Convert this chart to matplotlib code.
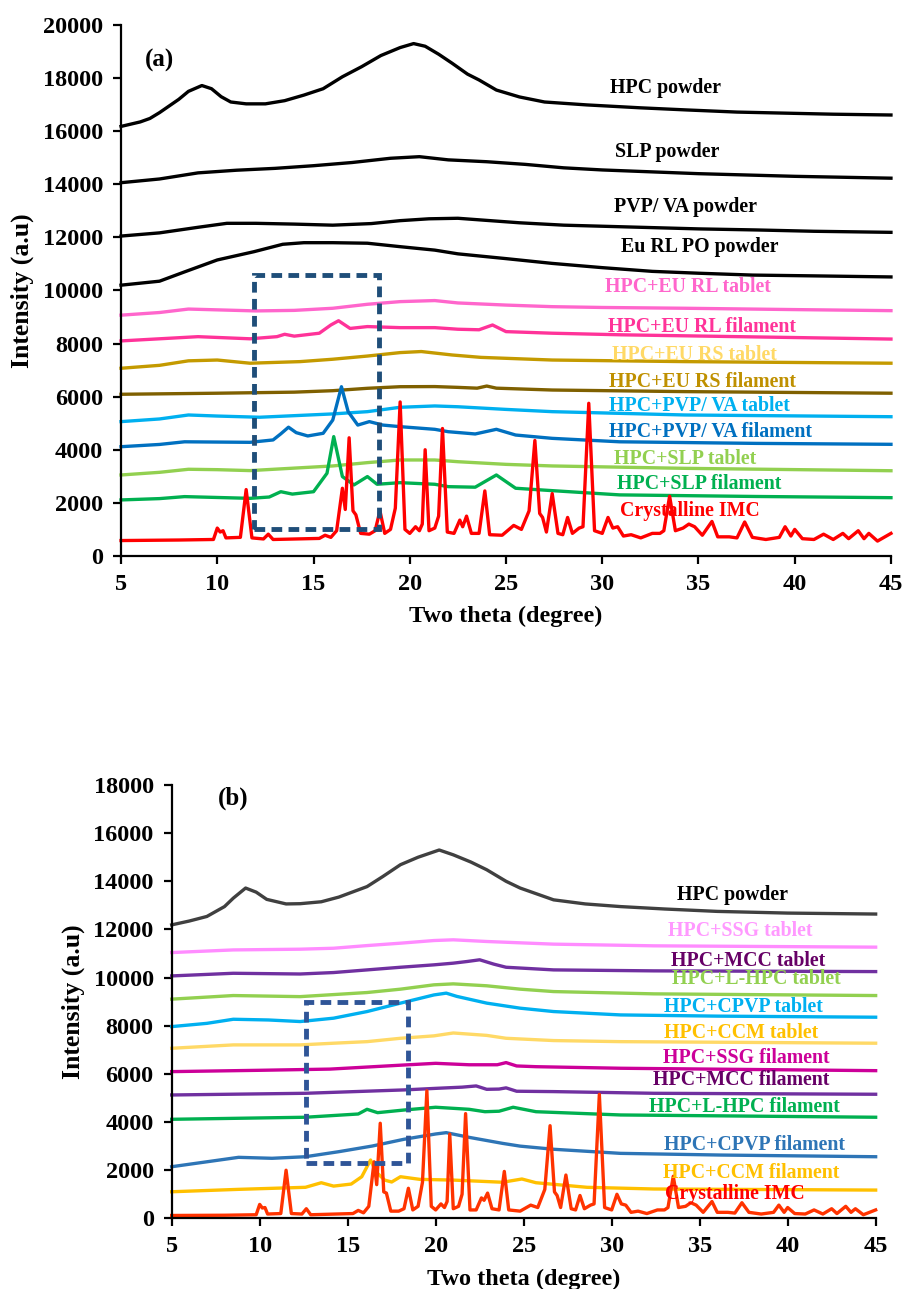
import matplotlib
matplotlib.use("Agg")
import matplotlib.pyplot as plt
from matplotlib.patches import Rectangle

# ---------------- panel (a) data ----------------
a_hpc_x = [5, 6, 6.5, 7, 7.5, 8, 8.5, 9.2, 9.7, 10.2, 10.7, 11.5, 12.5, 13.5, 14.5, 15.5, 16.5, 17.5, 18.5, 19.5,
           20.2, 20.8, 21.5, 22.2, 23, 23.6, 24.5, 25.7, 27, 29.2, 32, 34.4, 37, 39.5, 42, 45]
a_hpc_y = [16180, 16350, 16480, 16700, 16950, 17200, 17500, 17720, 17600, 17300, 17100, 17030, 17030, 17150, 17360,
           17600, 18050, 18430, 18850, 19150, 19300, 19200, 18900, 18560, 18150, 17930, 17550, 17290, 17100, 16990,
           16880, 16800, 16720, 16680, 16640, 16610]

a_slp_x = [5, 7, 9, 11, 13, 15, 17, 19, 20.5, 22, 24, 26, 28, 30, 35, 40, 45]
a_slp_y = [14060, 14200, 14430, 14530, 14600, 14700, 14820, 14980, 15040, 14920, 14850, 14750, 14620, 14540, 14400,
           14300, 14230]

a_pvp_x = [5, 7, 9, 10.5, 12, 14, 16, 18, 19.5, 21, 22.5, 24, 25.7, 28, 31, 35, 38, 41, 45]
a_pvp_y = [12050, 12170, 12380, 12530, 12530, 12500, 12460, 12520, 12630, 12700, 12720, 12640, 12550, 12460, 12400,
           12320, 12280, 12230, 12190]

a_eurl_x = [5, 7, 8.3, 10, 11.9, 13.4, 14.5, 16, 17.8, 19.5, 21.3, 22.5, 25, 27.4, 30, 32.6, 35, 37.8, 41, 45]
a_eurl_y = [10200, 10350, 10700, 11150, 11460, 11740, 11800, 11800, 11780, 11650, 11520, 11380, 11200, 11020, 10860,
            10720, 10650, 10580, 10550, 10510]

a_rltab_x = [5, 7, 8.5, 10, 12, 14, 16, 17.8, 19.5, 21.3, 22.5, 25, 27.4, 30, 34.3, 40, 45]
a_rltab_y = [9070, 9170, 9300, 9270, 9230, 9250, 9330, 9480, 9580, 9620, 9530, 9450, 9390, 9360, 9330, 9280, 9240]

a_rlfil_x = [5, 7, 9, 11.7, 13.1, 13.5, 14, 15.3, 15.9, 16.3, 16.9, 17.8, 19.5, 21.3, 22.5, 23.6, 24.3, 25, 27.4, 31,
             38, 45]
a_rlfil_y = [8100, 8180, 8260, 8180, 8260, 8350, 8280, 8390, 8700, 8860, 8570, 8640, 8600, 8600, 8540, 8520, 8700,
             8450, 8390, 8330, 8250, 8170]

a_rstab_x = [5, 7, 8.5, 10, 11.7, 14.3, 16, 17.8, 19.5, 20.6, 22.2, 23.7, 27.4, 34.3, 45]
a_rstab_y = [7070, 7180, 7350, 7380, 7260, 7320, 7410, 7530, 7660, 7700, 7570, 7480, 7380, 7320, 7260]

a_rsfil_x = [5, 10, 14, 16, 17.8, 19.5, 21.3, 22.5, 23.5, 24.0, 24.5, 27.4, 34.3, 45]
a_rsfil_y = [6090, 6130, 6170, 6225, 6315, 6375, 6380, 6350, 6320, 6400, 6320, 6250, 6190, 6130]

a_pvtab_x = [5, 7, 8.5, 10, 12.2, 16, 17.8, 19.5, 21.3, 22.5, 25, 27.4, 34.3, 45]
a_pvtab_y = [5060, 5160, 5310, 5270, 5225, 5350, 5435, 5600, 5650, 5620, 5520, 5435, 5310, 5245]

a_pvfil_x = [5, 7, 8.3, 11.7, 12.9, 13.3, 13.7, 14.1, 14.7, 15.5, 16.0, 16.45, 16.8, 17.3, 17.9, 18.6, 19.5, 21.3, 22,
             23.4, 24.5, 25.5, 27.4, 30.9, 38, 45]
a_pvfil_y = [4115, 4200, 4300, 4280, 4370, 4600, 4850, 4645, 4520, 4620, 5120, 6375, 5435, 4930, 5060, 4930, 4870,
             4770, 4680, 4595, 4770, 4555, 4430, 4300, 4240, 4205]

a_sltab_x = [5, 7, 8.5, 10, 11.7, 16, 17.8, 19.5, 21.3, 22.5, 25, 27.4, 34.3, 45]
a_sltab_y = [3050, 3150, 3265, 3250, 3215, 3390, 3515, 3615, 3615, 3550, 3450, 3390, 3300, 3210]

a_slfil_x = [5, 7, 8.3, 11.7, 12.7, 13.3, 13.9, 15.0, 15.7, 16.05, 16.5, 17.1, 17.8, 18.3, 19.5, 21.3, 22, 23.4, 24.5,
             25.5, 27.4, 30.9, 38, 45]
a_slfil_y = [2110, 2160, 2235, 2170, 2220, 2420, 2330, 2420, 3115, 4495, 2990, 2675, 2990, 2700, 2760, 2700, 2610,
             2590, 3050, 2550, 2460, 2300, 2240, 2195]

# crystalline IMC, same 2theta positions in both panels
imc_x = [5, 8, 9.8, 10.0, 10.15, 10.3, 10.45, 11.2, 11.5, 11.8, 12.4, 12.65, 12.9, 15.3, 15.6, 15.9, 16.2, 16.5, 16.65,
         16.85, 17.05, 17.2, 17.45, 17.9, 18.2, 18.45, 18.7, 19.0, 19.25, 19.5, 19.75, 20.0, 20.3, 20.5, 20.65, 20.8,
         21.0, 21.3, 21.5, 21.7, 21.95, 22.3, 22.6, 22.75, 22.95, 23.2, 23.6, 23.9, 24.15, 24.8, 25.4, 25.8, 26.2,
         26.5, 26.75, 26.9, 27.1, 27.4, 27.7, 27.95, 28.2, 28.45, 28.8, 29.0, 29.3, 29.6, 30.0, 30.3, 30.55, 30.8,
         31.1, 31.5, 32.0, 32.6, 33.0, 33.2, 33.5, 33.8, 34.2, 34.5, 34.8, 35.2, 35.7, 36.0, 36.6, 37.0, 37.4, 37.8,
         38.5, 39.2, 39.5, 39.8, 40.0, 40.4, 41.0, 41.5, 42.0, 42.5, 42.8, 43.3, 43.6, 43.85, 44.3, 45]
a_imc_y = [580, 600, 620, 1050, 900, 950, 680, 700, 2500, 680, 640, 820, 620, 660, 780, 700, 950, 2550, 1750, 4450,
           1700, 1550, 850, 820, 950, 1700, 850, 1000, 1800, 5800, 1000, 850, 1100, 950, 1200, 4000, 950, 1050, 1500,
           4800, 900, 850, 1350, 1100, 1500, 850, 850, 2450, 800, 780, 1150, 1000, 1700, 4350, 1600, 1450, 900, 2350,
           850, 800, 1450, 850, 1050, 1100, 5750, 950, 850, 1450, 1050, 1100, 750, 800, 680, 850, 850, 950, 2250, 950,
           1050, 1200, 1100, 780, 1300, 720, 720, 680, 1280, 700, 620, 700, 1100, 750, 1000, 650, 620, 820, 620, 850,
           650, 950, 650, 850, 560, 850]

a_labels = ["HPC powder", "SLP powder", "PVP/ VA powder", "Eu RL PO powder", "HPC+EU RL tablet",
            "HPC+EU RL filament", "HPC+EU RS tablet", "HPC+EU RS filament", "HPC+PVP/ VA tablet",
            "HPC+PVP/ VA filament", "HPC+SLP tablet", "HPC+SLP filament", "Crystalline IMC"]
a_label_x = [33.3, 33.4, 34.35, 35.05, 34.45, 35.2, 34.8, 35.2, 35.05, 35.6, 34.3, 35.05, 34.55]
a_label_y = [17625, 15225, 13155, 11625, 10120, 8640, 7570, 6565, 5650, 4680, 3640, 2710, 1710]

# ---------------- panel (b) data ----------------
b_hpc_x = [5, 6, 7, 8, 8.5, 9.2, 9.8, 10.4, 11.5, 12.3, 13.5, 14.5, 16.1, 17, 18, 19, 20.2, 21, 22, 22.9, 24, 24.8,
           26.7, 28.5, 30.5, 33, 36, 40, 45]
b_hpc_y = [12190, 12350, 12540, 12950, 13300, 13720, 13550, 13250, 13060, 13070, 13150, 13345, 13780, 14200, 14690,
           15000, 15300, 15100, 14800, 14480, 14000, 13720, 13230, 13060, 12950, 12850, 12750, 12680, 12640]

b_ssgtab_x = [5, 8.5, 12.3, 14.2, 16.1, 18, 19.9, 21, 22.9, 26.7, 32.4, 45]
b_ssgtab_y = [11040, 11150, 11180, 11220, 11330, 11430, 11540, 11570, 11500, 11390, 11320, 11265]

b_mcctab_x = [5, 8.5, 12.3, 14.2, 16.1, 18, 19.9, 21, 21.8, 22.5, 23.3, 24, 26.7, 32.4, 45]
b_mcctab_y = [10070, 10180, 10150, 10210, 10320, 10430, 10530, 10600, 10670, 10740, 10560, 10430, 10320, 10280, 10250]

b_lhtab_x = [5, 8.5, 12.3, 14.2, 16.1, 18, 19.9, 21, 22.9, 24.8, 26.7, 32.4, 45]
b_lhtab_y = [9105, 9255, 9210, 9295, 9380, 9520, 9700, 9740, 9660, 9520, 9420, 9325, 9255]

b_cptab_x = [5, 7, 8.5, 10.5, 12.3, 14.2, 16.1, 18, 19.9, 20.6, 21.2, 22.9, 24.8, 26.7, 30.5, 36, 45]
b_cptab_y = [7965, 8100, 8270, 8240, 8175, 8315, 8590, 8940, 9280, 9355, 9220, 8940, 8730, 8590, 8450, 8400, 8355]

b_cctab_x = [5, 8.5, 12.3, 14.2, 16.1, 18, 19.9, 21, 22.9, 24, 26.7, 30.5, 45]
b_cctab_y = [7065, 7205, 7205, 7275, 7340, 7480, 7580, 7700, 7600, 7480, 7385, 7340, 7275]

b_ssgfil_x = [5, 10, 14, 18.2, 20, 21.9, 23.5, 24, 24.6, 25.7, 30.5, 45]
b_ssgfil_y = [6095, 6150, 6200, 6370, 6440, 6380, 6380, 6470, 6330, 6300, 6235, 6135]

b_mccfil_x = [5, 12.6, 18.2, 20, 21.5, 22.3, 22.9, 23.6, 24, 24.6, 26.7, 32.4, 45]
b_mccfil_y = [5125, 5195, 5335, 5400, 5450, 5500, 5360, 5370, 5420, 5280, 5265, 5195, 5155]

b_lhfil_x = [5, 12.6, 15.6, 16.1, 16.7, 18.2, 20, 21.9, 22.8, 23.6, 24.4, 25.7, 30.5, 45]
b_lhfil_y = [4115, 4200, 4335, 4530, 4390, 4500, 4615, 4530, 4430, 4450, 4615, 4430, 4295, 4200]

b_cpfil_x = [5, 7, 8.8, 10.7, 12.6, 14.5, 16.4, 18.2, 20, 20.6, 21.9, 23.8, 24.8, 26.7, 30.5, 36.2, 45]
b_cpfil_y = [2145, 2350, 2535, 2495, 2560, 2770, 3005, 3285, 3505, 3560, 3365, 3115, 3000, 2870, 2700, 2630, 2560]

b_ccfil_x = [5, 8.8, 12.6, 13.5, 14.2, 15.2, 15.8, 16.3, 16.6, 17.1, 17.5, 18, 19.1, 21, 23.8, 24.9, 25.7, 28.6, 32.4, 45]
b_ccfil_y = [1105, 1205, 1290, 1480, 1340, 1425, 1730, 2425, 1940, 1590, 1510, 1730, 1620, 1590, 1500, 1635, 1480,
             1290, 1220, 1175]

b_imc_y = [120, 130, 150, 580, 430, 450, 180, 200, 2000, 200, 180, 400, 150, 200, 330, 230, 500, 2350, 1400, 3950,
           1100, 1050, 300, 300, 400, 1250, 350, 500, 1500, 5300, 500, 350, 600, 450, 700, 3500, 400, 500, 1000, 4350,
           350, 350, 850, 750, 1050, 400, 350, 1950, 350, 300, 550, 450, 1200, 3850, 1100, 950, 450, 1800, 400, 350,
           950, 400, 550, 600, 5150, 450, 350, 1000, 600, 550, 250, 300, 200, 350, 350, 450, 1750, 450, 500, 650, 550,
           250, 700, 250, 250, 220, 650, 250, 180, 250, 550, 250, 450, 200, 180, 350, 180, 400, 200, 500, 250, 400,
           150, 350]

b_labels = ["HPC powder", "HPC+SSG tablet", "HPC+MCC tablet", "HPC+L-HPC tablet", "HPC+CPVP tablet",
            "HPC+CCM tablet", "HPC+SSG filament", "HPC+MCC filament", "HPC+L-HPC filament", "HPC+CPVP filament",
            "HPC+CCM filament", "Crystalline IMC"]
b_label_x = [36.85, 37.3, 37.75, 38.2, 37.5, 37.35, 37.65, 37.35, 37.55, 38.1, 37.95, 37.0]
b_label_y = [13440, 11955, 10670, 9935, 8795, 7690, 6650, 5750, 4640, 3050, 1895, 1010]

# ---------------- styling ----------------
a_curves = [(a_hpc_x, a_hpc_y), (a_slp_x, a_slp_y), (a_pvp_x, a_pvp_y), (a_eurl_x, a_eurl_y),
            (a_rltab_x, a_rltab_y), (a_rlfil_x, a_rlfil_y), (a_rstab_x, a_rstab_y), (a_rsfil_x, a_rsfil_y),
            (a_pvtab_x, a_pvtab_y), (a_pvfil_x, a_pvfil_y), (a_sltab_x, a_sltab_y), (a_slfil_x, a_slfil_y),
            (imc_x, a_imc_y)]
a_line_colors = ["black", "black", "black", "black", "#FF66CC", "#FF3399", "#C49A00", "#7F6000",
                 "#00B0F0", "#0070C0", "#92D050", "#00B050", "#FF0000"]
a_text_colors = ["black", "black", "black", "black", "#FF66CC", "#FF3399", "#FFD966", "#BF9000",
                 "#00B0F0", "#0070C0", "#92D050", "#00B050", "#FF0000"]

b_curves = [(b_hpc_x, b_hpc_y), (b_ssgtab_x, b_ssgtab_y), (b_mcctab_x, b_mcctab_y), (b_lhtab_x, b_lhtab_y),
            (b_cptab_x, b_cptab_y), (b_cctab_x, b_cctab_y), (b_ssgfil_x, b_ssgfil_y), (b_mccfil_x, b_mccfil_y),
            (b_lhfil_x, b_lhfil_y), (b_cpfil_x, b_cpfil_y), (b_ccfil_x, b_ccfil_y), (imc_x, b_imc_y)]
b_line_colors = ["#404040", "#FF8CFF", "#7030A0", "#92D050", "#00B0F0", "#FFD966", "#CC0099", "#7030A0",
                 "#00B050", "#2E75B6", "#FFC000", "#FF3300"]
b_text_colors = ["black", "#FF99FF", "#660066", "#92D050", "#00B0F0", "#FFC000", "#CC0099", "#660066",
                 "#00B050", "#2E75B6", "#FFC000", "#FF0000"]

plt.rcParams['font.family'] = ['Liberation Serif', 'DejaVu Serif']
plt.rcParams['font.weight'] = 'bold'
plt.rcParams['axes.labelweight'] = 'bold'

fig = plt.figure(figsize=(9.06, 12.89), dpi=100)
ax_a = fig.add_axes([0.1336, 0.5687, 0.8498, 0.4119])
ax_b = fig.add_axes([0.1895, 0.0548, 0.777, 0.3362])


def setup(ax, ymax):
    ax.set_xlim(5, 45)
    ax.set_ylim(0, ymax)
    ax.set_xticks(range(5, 46, 5))
    ax.set_yticks(range(0, ymax + 1, 2000))
    for s in ["top", "right"]:
        ax.spines[s].set_visible(False)
    for s in ["left", "bottom"]:
        ax.spines[s].set_linewidth(1.6)
    ax.tick_params(direction="out", length=6, width=1.6, labelsize=17.5, pad=7)
    ax.set_xlabel("Two theta (degree)", fontsize=17.5, labelpad=8)
    ax.set_ylabel("Intensity (a.u)", fontsize=18.5, labelpad=6)


def draw(ax, curves, lcols, labels, tcols, lx, ly):
    for (x, y), c in zip(curves, lcols):
        ax.plot(x, y, color=c, lw=2.4, solid_joinstyle="round", clip_on=False)
    for t, c, px, py in zip(labels, tcols, lx, ly):
        ax.text(px, py, t, color=c, fontsize=14.3, fontweight="bold", ha="center", va="center", zorder=5)


setup(ax_a, 20000)
draw(ax_a, a_curves, a_line_colors, a_labels, a_text_colors, a_label_x, a_label_y)
ax_a.text(7.0, 18650, "(a)", fontsize=18, fontweight="bold", ha="center", va="center")
ax_a.add_patch(Rectangle((11.9, 1000), 18.4 - 11.9, 10600 - 1000, fill=False, edgecolor="#1F4E79",
                         lw=3.5, linestyle=(0, (2.2, 1.3)), zorder=6))

setup(ax_b, 18000)
draw(ax_b, b_curves, b_line_colors, b_labels, b_text_colors, b_label_x, b_label_y)
ax_b.text(8.5, 17460, "(b)", fontsize=18, fontweight="bold", ha="center", va="center")
ax_b.add_patch(Rectangle((12.65, 2300), 18.4 - 12.65, 9000 - 2300, fill=False, edgecolor="#2F5597",
                         lw=3.5, linestyle=(0, (2.2, 1.3)), zorder=6))

fig.savefig("out.png", dpi=100)
